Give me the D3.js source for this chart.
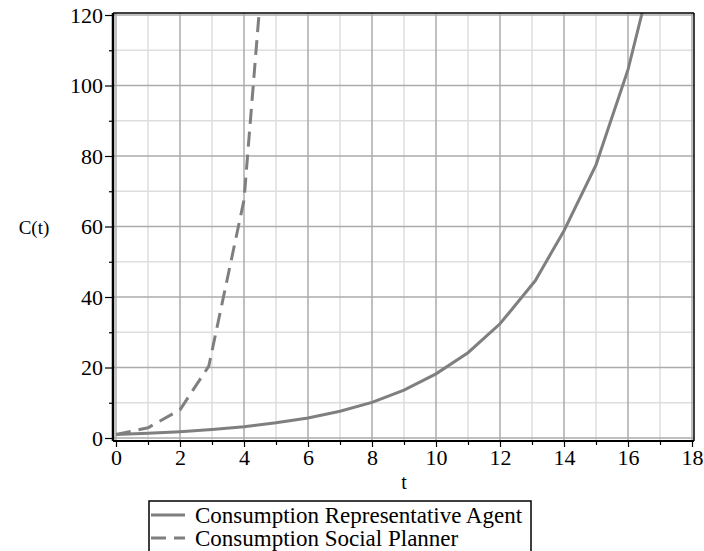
<!DOCTYPE html>
<html>
<head>
<meta charset="utf-8">
<script src="https://cdn.jsdelivr.net/npm/d3@7"></script>
<style>
  html, body { margin: 0; padding: 0; background: #fff; }
  svg { display: block; }
</style>
</head>
<body>
<svg id="chart" width="704" height="551"></svg>
<script>
// ---- data ----
const repT = [0, 1, 2, 3, 4, 5, 6, 7, 8, 9, 10, 11, 12, 13.1, 14, 15, 16, 17];
const repC = [1.0, 1.35, 1.8, 2.4, 3.2, 4.3, 5.7, 7.6, 10.1, 13.6, 18.2, 24.2, 32.4, 44.6, 58.8, 77.5, 104.5, 141];
const plannerT = [0, 1, 2, 2.9, 4, 5];
const plannerC = [1.0, 2.9, 8.0, 20.4, 67.5, 180];
const xTicks = [0, 2, 4, 6, 8, 10, 12, 14, 16, 18];
const xMinor = [1, 3, 5, 7, 9, 11, 13, 15, 17];
const yTicks = [0, 20, 40, 60, 80, 100, 120];
const yMinor = [10, 30, 50, 70, 90, 110];
const legendLabels = ["Consumption Representative Agent", "Consumption Social Planner"];
const xLabel = "t";
const yLabel = "C(t)";

const FONT = "Liberation Serif";

// ---- layout ----
const svg = d3.select("#chart");
const x = d3.scaleLinear().domain([0, 18]).range([116, 692]);
const y = d3.scaleLinear().domain([0, 120]).range([438, 15]);
const frame = { left: 113, right: 694, top: 13, bottom: 441 };

svg.append("defs").append("clipPath").attr("id", "clip")
  .append("rect")
  .attr("x", frame.left).attr("y", frame.top)
  .attr("width", frame.right - frame.left).attr("height", frame.bottom - frame.top);

// minor grid
const grid = svg.append("g");
grid.selectAll(".vmin").data(xMinor).enter().append("line")
  .attr("x1", d => x(d)).attr("x2", d => x(d))
  .attr("y1", frame.top).attr("y2", frame.bottom)
  .attr("stroke", "#dedede").attr("stroke-width", 1.5);
grid.selectAll(".hmin").data(yMinor).enter().append("line")
  .attr("y1", d => y(d)).attr("y2", d => y(d))
  .attr("x1", frame.left).attr("x2", frame.right)
  .attr("stroke", "#dedede").attr("stroke-width", 1.5);
// major grid
grid.selectAll(".vmaj").data(xTicks).enter().append("line")
  .attr("x1", d => x(d)).attr("x2", d => x(d))
  .attr("y1", frame.top).attr("y2", frame.bottom)
  .attr("stroke", "#ababab").attr("stroke-width", 1.5);
grid.selectAll(".hmaj").data(yTicks).enter().append("line")
  .attr("y1", d => y(d)).attr("y2", d => y(d))
  .attr("x1", frame.left).attr("x2", frame.right)
  .attr("stroke", "#ababab").attr("stroke-width", 1.5);

// curves
const lineGen = d3.line().x(d => x(d[0])).y(d => y(d[1]));
const curves = svg.append("g").attr("clip-path", "url(#clip)");
curves.append("path")
  .datum(repT.map((t, i) => [t, repC[i]]))
  .attr("d", lineGen).attr("fill", "none")
  .attr("stroke", "#7f7f7f").attr("stroke-width", 3);
curves.append("path")
  .datum(plannerT.map((t, i) => [t, plannerC[i]]))
  .attr("d", lineGen).attr("fill", "none")
  .attr("stroke", "#7f7f7f").attr("stroke-width", 3)
  .attr("stroke-dasharray", "15,8");

// frame
svg.append("line").attr("x1", frame.left).attr("x2", frame.right)
  .attr("y1", frame.top).attr("y2", frame.top).attr("stroke", "#000").attr("stroke-width", 1.5);
svg.append("line").attr("x1", frame.right).attr("x2", frame.right)
  .attr("y1", frame.top).attr("y2", frame.bottom).attr("stroke", "#000").attr("stroke-width", 1.5);
svg.append("line").attr("x1", frame.left).attr("x2", frame.right)
  .attr("y1", frame.bottom).attr("y2", frame.bottom).attr("stroke", "#000").attr("stroke-width", 2);
svg.append("line").attr("x1", frame.left).attr("x2", frame.left)
  .attr("y1", frame.top).attr("y2", frame.bottom).attr("stroke", "#000").attr("stroke-width", 2.5);

// y axis
const yAxis = d3.axisLeft(y).tickValues(yTicks).tickSize(8).tickPadding(2).tickFormat(d3.format("d"));
const yg = svg.append("g").attr("transform", `translate(${frame.left},0)`).call(yAxis)
  .attr("font-family", FONT).attr("font-size", 22);
yg.select(".domain").remove();
yg.selectAll("line").attr("stroke", "#000").attr("stroke-width", 1.2);
yg.selectAll("text").attr("fill", "#000").attr("dy", "0.34em");
const yMinorAxis = d3.axisLeft(y).tickValues(yMinor).tickSize(4).tickFormat("");
const ymg = svg.append("g").attr("transform", `translate(${frame.left},0)`).call(yMinorAxis);
ymg.select(".domain").remove();
ymg.selectAll("line").attr("stroke", "#000").attr("stroke-width", 1.2);

// x axis
const xAxis = d3.axisBottom(x).tickValues(xTicks).tickSize(6).tickPadding(3).tickFormat(d3.format("d"));
const xg = svg.append("g").attr("transform", `translate(0,${frame.bottom})`).call(xAxis)
  .attr("font-family", FONT).attr("font-size", 22);
xg.select(".domain").remove();
xg.selectAll("line").attr("stroke", "#000").attr("stroke-width", 1.2);
xg.selectAll("text").attr("fill", "#000").attr("dy", "0.70em");
const xMinorAxis = d3.axisBottom(x).tickValues(xMinor).tickSize(4).tickFormat("");
const xmg = svg.append("g").attr("transform", `translate(0,${frame.bottom})`).call(xMinorAxis);
xmg.select(".domain").remove();
xmg.selectAll("line").attr("stroke", "#000").attr("stroke-width", 1.2);

// axis labels
svg.append("text").attr("x", 404).attr("y", 489).attr("text-anchor", "middle")
  .attr("font-family", FONT).attr("font-size", 20).text(xLabel);
svg.append("text").attr("x", 34).attr("y", 234).attr("text-anchor", "middle")
  .attr("font-family", FONT).attr("font-size", 19).text(yLabel);

// legend
const lg = svg.append("g");
lg.append("rect").attr("x", 149).attr("y", 501).attr("width", 382).attr("height", 60)
  .attr("fill", "none").attr("stroke", "#000").attr("stroke-width", 1.5);
const dashes = [null, "15,8"];
legendLabels.forEach((lab, i) => {
  const ly = 515 + i * 23;
  lg.append("line").attr("x1", 151).attr("x2", 185).attr("y1", ly).attr("y2", ly)
    .attr("stroke", "#7f7f7f").attr("stroke-width", 3)
    .attr("stroke-dasharray", dashes[i]);
  lg.append("text").attr("x", 195).attr("y", ly + 8)
    .attr("font-family", FONT).attr("font-size", 23).attr("fill", "#000")
    .text(lab);
});
</script>
</body>
</html>
